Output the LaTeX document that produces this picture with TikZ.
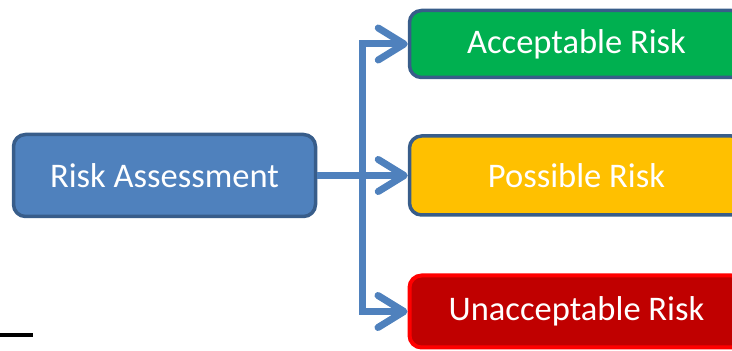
\documentclass[tikz,border=0pt]{standalone}
\usepackage{fontspec}
\setmainfont{Carlito}
\usetikzlibrary{arrows.meta}
\definecolor{rablue}{HTML}{4F81BD}
\definecolor{raborder}{HTML}{385D8A}
\definecolor{okgreen}{HTML}{00B050}
\definecolor{midyellow}{HTML}{FFC000}
\definecolor{badred}{HTML}{C00000}
\definecolor{brightred}{HTML}{FF0000}
\tikzset{
  box/.style={draw=raborder, line width=3.5pt, rounded corners=12pt, text=white,
    font=\fontsize{34.5}{40}\selectfont, inner sep=0pt},
  conn/.style={draw=rablue, line width=7pt,
    -{Straight Barb[round, length=26pt, width=32pt]}},
}
\begin{document}
\begin{tikzpicture}[x=1pt,y=1pt]
\useasboundingbox (0,0) rectangle (732,351);
\clip (0,0) rectangle (732,351);
\node[box, fill=rablue, minimum width=302pt, minimum height=82pt] (ra) at (164.5,175.5) {Risk Assessment};
\node[box, fill=okgreen, minimum width=334pt, minimum height=67pt] (ac) at (576.5,307) {Acceptable Risk};
\node[box, fill=midyellow, minimum width=334pt, minimum height=79pt] (ps) at (576.5,175.5) {Possible Risk};
\node[box, fill=badred, draw=brightred, line width=4pt, minimum width=334pt, minimum height=72pt] (un) at (576.5,39.5) {Unacceptable Risk};
\coordinate (j) at (362,175.5);
\draw[conn] (j) |- (ac.west);
\draw[conn] (j) |- (un.west);
\draw[conn] (ra.east) -- (ps.west);
\draw[line width=4pt, black] (0,16) -- (33,16);
\end{tikzpicture}
\end{document}
